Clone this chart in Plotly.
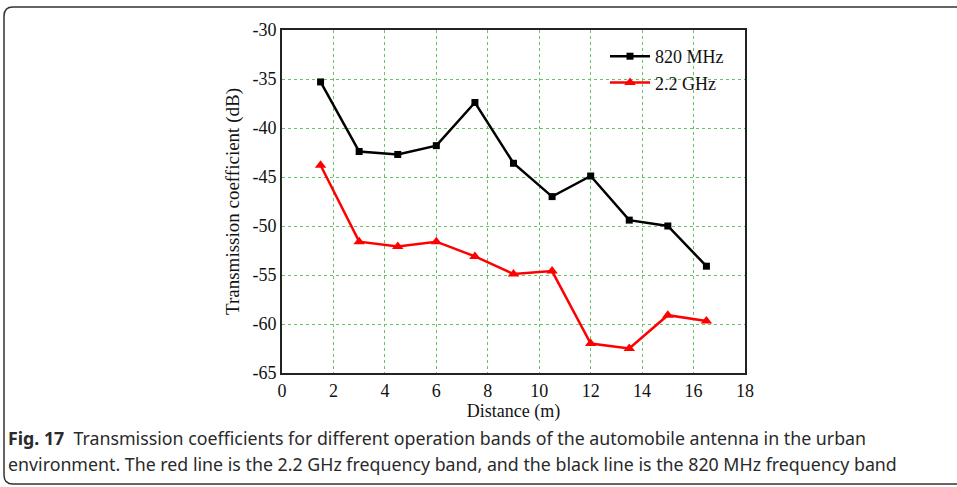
import plotly.graph_objects as go

distance = [1.5, 3, 4.5, 6, 7.5, 9, 10.5, 12, 13.5, 15, 16.5]
mhz820 = [-35.3, -42.4, -42.7, -41.8, -37.4, -43.6, -47.0, -44.9, -49.4, -50.0, -54.1]
ghz22 = [-43.8, -51.6, -52.1, -51.6, -53.1, -54.9, -54.6, -62.0, -62.5, -59.1, -59.7]
x_ticks = [0, 2, 4, 6, 8, 10, 12, 14, 16, 18]
y_ticks = [-30, -35, -40, -45, -50, -55, -60, -65]
y_labels = ["-30", "-35", "-40", "-45", "-50", "-55", "-60", "-65"]

W, H = 957, 487
L, R, T, B = 282, 745, 30, 373  # plot area in px

def px(x):
    return (x - L) / (R - L)

def py(y):
    return (B - y) / (B - T)

serif = "Liberation Serif"

fig = go.Figure()
fig.add_trace(go.Scatter(
    x=distance, y=mhz820, name="820 MHz", mode="lines+markers",
    line=dict(color="black", width=2.5),
    marker=dict(symbol="square", size=7, color="black"),
))
fig.add_trace(go.Scatter(
    x=distance, y=ghz22, name="2.2 GHz", mode="lines+markers",
    line=dict(color="#ff0000", width=2.5),
    marker=dict(symbol="triangle-up", size=10, color="#ff0000"),
))

grid = "#66c466"
fig.update_xaxes(
    range=[0, 18], tickvals=x_ticks, showgrid=True, gridcolor=grid,
    griddash="dot", gridwidth=1, showline=True, linecolor="#222222",
    linewidth=2, mirror=True, ticks="", zeroline=False,
    tickfont=dict(family=serif, size=18, color="#111111"),
    title=dict(text="Distance (m)", font=dict(family=serif, size=18, color="#111111"), standoff=1),
)
fig.update_yaxes(
    range=[-65, -30], tickvals=y_ticks, ticktext=y_labels, showgrid=True, gridcolor=grid,
    griddash="dot", gridwidth=1, showline=True, linecolor="#222222",
    linewidth=2, mirror=True, ticks="", zeroline=False,
    tickfont=dict(family=serif, size=18, color="#111111"),
    title=dict(text="Transmission coefficient (dB)", font=dict(family=serif, size=19, color="#111111"), standoff=8),
)

# rounded frame around the whole figure
r = 9
fx0, fy0, fx1, fy1 = 4, 7, 975, 484
path = (
    f"M {px(fx1)},{py(fy0)} L {px(fx0 + r)},{py(fy0)} "
    f"Q {px(fx0)},{py(fy0)} {px(fx0)},{py(fy0 + r)} "
    f"L {px(fx0)},{py(fy1 - r)} "
    f"Q {px(fx0)},{py(fy1)} {px(fx0 + r)},{py(fy1)} "
    f"L {px(fx1)},{py(fy1)}"
)
fig.add_shape(type="path", path=path, xref="paper", yref="paper",
              line=dict(color="#333333", width=1.5))

cap_font = dict(family="Noto Sans", size=17.8, color="#2a2a2a")
fig.add_annotation(
    x=px(6), y=py(438), xref="paper", yref="paper", xanchor="left", yanchor="middle",
    showarrow=False, font=cap_font,
    text="<b>Fig. 17</b>  Transmission coefficients for different operation bands of the automobile antenna in the urban",
)
fig.add_annotation(
    x=px(6), y=py(464), xref="paper", yref="paper", xanchor="left", yanchor="middle",
    showarrow=False, font=cap_font,
    text="environment. The red line is the 2.2 GHz frequency band, and the black line is the 820 MHz frequency band",
)

fig.update_layout(
    width=W, height=H,
    margin=dict(l=L, r=W - R, t=T, b=H - B),
    paper_bgcolor="white", plot_bgcolor="white",
    showlegend=True,
    legend=dict(x=px(605), y=py(38), xanchor="left", yanchor="top",
                bgcolor="rgba(0,0,0,0)", font=dict(family=serif, size=18, color="#111111"),
                itemwidth=40, tracegroupgap=0),
)

fig.write_html("out.html")
